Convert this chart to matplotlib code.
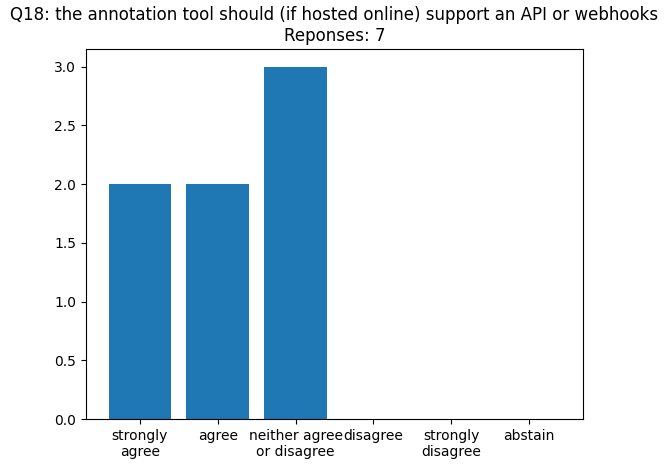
import matplotlib
matplotlib.use("Agg")
import matplotlib.pyplot as plt

categories = ["strongly\nagree", "agree", "neither agree\nor disagree", "disagree", "strongly\ndisagree", "abstain"]
counts = [2, 2, 3, 0, 0, 0]
title = "Q18: the annotation tool should (if hosted online) support an API or webhooks\nReponses: 7"

fig = plt.figure(figsize=(6.68, 4.69), dpi=100)
ax = fig.add_axes([86/668, 50/469, (583-86)/668, 370/469])
ax.bar(categories, counts, color="#1f77b4")
ax.set_title(title)
fig.savefig("out.png", dpi=100)
